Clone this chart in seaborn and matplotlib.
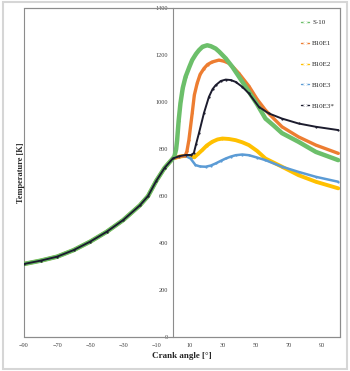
import numpy as np
import pandas as pd
import matplotlib
matplotlib.use("Agg")
import matplotlib.pyplot as plt
import seaborn as sns
from matplotlib.patches import Rectangle

# compression part (shared by all fuels)
comp_angle = [-90, -80, -70, -60, -50, -40, -30, -20, -15, -10, -5, 0]
comp_temp = [311, 325, 342, 370, 406, 448, 498, 560, 600, 665, 720, 760]

# after TDC
s10_angle = [1, 2, 2.6, 3.5, 4.6, 6, 7.7, 10, 11.7, 14, 15.8, 18, 20.8, 23, 25.9, 28, 32, 36, 40,
             46, 51, 56, 61, 66, 76, 86.5, 100]
s10_temp = [770, 800, 838, 920, 995, 1060, 1108, 1150, 1179, 1205, 1221, 1236, 1242, 1238, 1228, 1215,
            1186, 1150, 1108, 1044, 990, 930, 900, 868, 831, 788, 753]

b10e1_angle = [4, 7.5, 8.5, 9.7, 11.7, 13, 14.7, 16.5, 18.8, 21, 23.8, 27.9, 31, 34, 37, 40, 46, 51,
               56, 61, 66, 76, 86.5, 100]
b10e1_temp = [768, 772, 790, 838, 952, 1030, 1080, 1118, 1143, 1160, 1171, 1179, 1174, 1165, 1145, 1122,
              1068, 1012, 966, 930, 895, 852, 817, 782]

b10e2_angle = [4, 8, 11, 13, 15, 17.8, 20.5, 23.8, 27, 30, 34, 38, 42, 46, 51, 56, 66, 76, 86.5, 100]
b10e2_temp = [768, 772, 768, 765, 778, 796, 815, 831, 841, 845, 843, 838, 829, 817, 792, 760, 725, 689,
              661, 633]

b10e3_angle = [4, 8, 10.7, 13.7, 16.5, 19.8, 23, 25.9, 29, 32, 35, 38, 42, 46, 51, 56, 66, 76, 86.5, 100]
b10e3_temp = [768, 770, 760, 732, 726, 725, 730, 739, 750, 760, 768, 774, 777, 774, 764, 753, 725, 703,
              682, 661]

b10e3s_angle = [4, 8, 11, 12.7, 14, 15.8, 18.8, 21.8, 24, 25.9, 29, 32, 35, 38, 42, 46, 52, 58, 66, 76,
                86.5, 100]
b10e3s_temp = [770, 775, 775, 783, 820, 868, 953, 1022, 1055, 1072, 1090, 1096, 1094, 1086, 1065, 1037,
               980, 952, 930, 909, 895, 881]

fuels = ["S-10", "B10E1", "B10E2", "B10E3", "B10E3*"]
colors = ["#6cbf6a", "#ed7d31", "#ffc000", "#5b9bd5", "#1c1c2e"]
widths = [3.2, 2.4, 2.8, 1.8, 1.4]
zorders = [4, 3, 2, 2.5, 5]

series = {
    "S-10": (s10_angle, s10_temp),
    "B10E1": (b10e1_angle, b10e1_temp),
    "B10E2": (b10e2_angle, b10e2_temp),
    "B10E3": (b10e3_angle, b10e3_temp),
    "B10E3*": (b10e3s_angle, b10e3s_temp),
}

rows = []
for f in fuels:
    a, t = series[f]
    for x, y in zip(comp_angle + a, comp_temp + t):
        rows.append((f, x, y))
df = pd.DataFrame(rows, columns=["fuel", "angle", "temp"])

serif = ["Liberation Serif", "DejaVu Serif"]
sns.set_style("white")
plt.rcParams["font.family"] = serif

fig = plt.figure(figsize=(3.5, 3.71), dpi=100)
ax = fig.add_axes([0.0686, 0.0916, 0.9024, 0.8864])

for f, c, w, z in zip(fuels, colors, widths, zorders):
    d = df[df["fuel"] == f]
    sns.lineplot(data=d, x="angle", y="temp", ax=ax, color=c, lw=w, label=f,
                 marker="o", markersize=1.6, markeredgewidth=0, sort=False, zorder=z)

ax.set_xlim(-90, 101)
ax.set_ylim(0, 1400)
ax.set_xticks(np.arange(-90, 91, 20))
ax.set_yticks(np.arange(0, 1401, 200))
ax.tick_params(axis="x", labelsize=4.5, length=0, pad=4, colors="#404040")
ax.tick_params(axis="y", labelsize=4.5, length=2, width=0.5, pad=1.5, colors="#404040")

# y axis crosses at crank angle 0 (Excel style)
ax.spines["left"].set_position(("data", 0))
ax.spines["left"].set_color("#8c8c8c")
ax.spines["left"].set_linewidth(0.8)
for s in ["top", "right", "bottom"]:
    ax.spines[s].set_color("#8c8c8c")
    ax.spines[s].set_linewidth(0.8)
ax.add_patch(Rectangle((0, 0), 1, 1, transform=ax.transAxes, fill=False,
                       ec="#8c8c8c", lw=0.8, clip_on=False, zorder=0))

ax.set_xlabel("Crank angle [°]", fontsize=6.5, fontweight="bold", labelpad=3)
ax.set_ylabel("Temperature [K]", fontsize=6, fontweight="bold")
ax.yaxis.set_label_coords(0.004, 0.5)

leg = ax.legend(loc="upper right", bbox_to_anchor=(1.0, 0.98), frameon=False, fontsize=5,
                labelspacing=2.15, handlelength=1.2, handletextpad=0.4, borderaxespad=0.3)
for h in leg.get_lines():
    h.set_linewidth(1.0)
    h.set_markersize(2.5)
    h.set_marker("+")
    h.set_markeredgewidth(0.8)

# light grey frame around the picture
fig.add_artist(Rectangle((0.008, 0.006), 0.984, 0.988, transform=fig.transFigure, fill=False,
                         ec="#d6d6d6", lw=1.5))

fig.savefig("out.png", dpi=100)
